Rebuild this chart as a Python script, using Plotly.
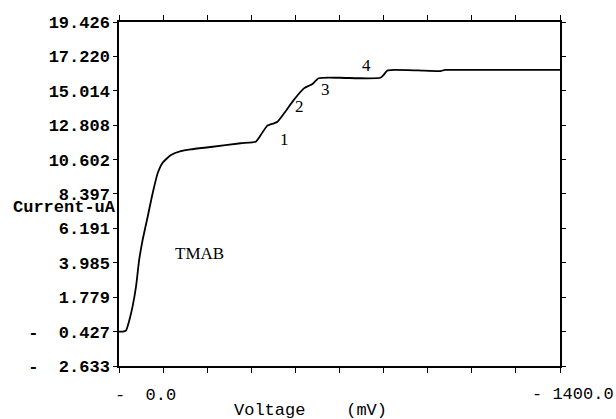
import plotly.graph_objects as go

# Voltage (mV, magnitude from 0 to 1400) and current (uA)
voltage = [0, 12, 22, 33, 43, 54, 64, 75, 91, 107, 123, 138, 165, 196, 228, 291,
           386, 434, 450, 471, 492, 503, 524, 555, 587, 603, 613, 634, 700, 760,
           830, 840, 851, 872, 950, 1020, 1035, 1100, 1400]
current = [-0.43, -0.43, -0.37, 0.32, 1.17, 2.45, 4.17, 5.45, 6.94, 8.46, 9.74,
           10.39, 10.90, 11.15, 11.26, 11.41, 11.65, 11.75, 12.18, 12.78, 12.93,
           13.03, 13.57, 14.43, 15.17, 15.34, 15.43, 15.82, 15.85, 15.82, 15.85,
           16.03, 16.30, 16.35, 16.32, 16.28, 16.35, 16.35, 16.35]

y_ticks = [19.426, 17.220, 15.014, 12.808, 10.602, 8.397, 6.191, 3.985, 1.779,
           -0.427, -2.633]
y_ticktext = ["19.426", "17.220", "15.014", "12.808", "10.602", "8.397", "6.191",
              "3.985", "1.779", "-\u00a0\u00a00.427", "-\u00a0\u00a02.633"]
x_ticks = [0, 140, 280, 420, 560, 700, 840, 980, 1120, 1260, 1400]

wave_labels = ["1", "2", "3", "4"]
wave_x = [524, 574, 656, 786]
wave_y = [11.86, 14.0, 15.07, 16.62]

mono = "Liberation Mono"
serif = "Liberation Serif"

fig = go.Figure()
fig.add_trace(go.Scatter(x=voltage, y=current, mode="lines",
                         line=dict(color="black", width=1.8, shape="spline",
                                   smoothing=0.5),
                         showlegend=False))

ann = []
for t, x, y in zip(wave_labels, wave_x, wave_y):
    ann.append(dict(x=x, y=y, text=t, showarrow=False,
                    font=dict(family=serif, size=17, color="black")))
ann.append(dict(x=257, y=4.61, text="TMAB", showarrow=False,
                font=dict(family=serif, size=17, color="black")))
ann.append(dict(x=-0.0135, y=-0.087, xref="paper", yref="paper", xanchor="left",
                yanchor="middle", text="-\u00a0\u00a00.0", showarrow=False,
                font=dict(family=mono, size=17, color="black")))
ann.append(dict(x=1.127, y=-0.084, xref="paper", yref="paper", xanchor="right",
                yanchor="middle", text="-\u00a01400.0", showarrow=False,
                font=dict(family=mono, size=17, color="black")))
ann.append(dict(x=0.257, y=-0.128, xref="paper", yref="paper", xanchor="left",
                yanchor="middle", text="Voltage\u00a0\u00a0\u00a0\u00a0(mV)",
                showarrow=False, font=dict(family=mono, size=17, color="black")))
ann.append(dict(x=-0.246, y=0.462, xref="paper", yref="paper", xanchor="left",
                yanchor="middle", text="<b>Current-uA</b>", showarrow=False,
                font=dict(family=mono, size=17, color="black")))

fig.update_layout(
    width=616, height=419,
    margin=dict(l=119, r=56, t=22, b=53),
    paper_bgcolor="white", plot_bgcolor="white",
    annotations=ann,
    xaxis=dict(range=[0, 1400], tickvals=x_ticks, showticklabels=False,
               ticks="outside", ticklen=5, tickwidth=1.2, tickcolor="black",
               showline=True, linecolor="black", linewidth=1.5, mirror="ticks",
               showgrid=False, zeroline=False),
    yaxis=dict(range=[-2.633, 19.426], tickvals=y_ticks, ticktext=y_ticktext,
               ticks="outside", ticklen=4, tickwidth=1.2, tickcolor="black",
               showline=True, linecolor="black", linewidth=1.5, mirror="ticks",
               showgrid=False, zeroline=False, ticklabelstandoff=0,
               tickfont=dict(family=mono, size=17, color="black", weight="bold")),
)

fig.write_html("out.html")
